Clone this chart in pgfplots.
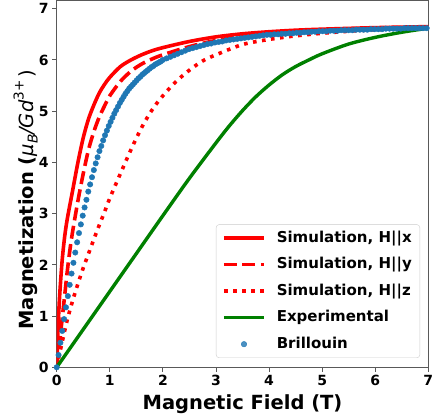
\documentclass[border=0pt]{standalone}
\usepackage{fontspec}
\setmainfont{DejaVu Sans}
\usepackage{pgfplots}
\pgfplotsset{compat=1.18}
\definecolor{mplred}{rgb}{1,0,0}
\definecolor{mplgreen}{rgb}{0,0.5,0}
\definecolor{mplblue}{HTML}{1F77B4}

\begin{document}
\begin{tikzpicture}
\begin{axis}[
  name=ax,
  scale only axis,
  width=371.6pt, height=366.8pt,
  xmin=0, xmax=7, ymin=0, ymax=7.16,
  xtick={0,1,...,7}, ytick={0,1,...,7},
  tick align=outside, tick pos=left,
  major tick length=4.5pt,
  every tick/.style={black!65, line width=0.9pt},
  axis line style={black!65, line width=0.9pt},
  /pgf/number format/assume math mode=true,
  ticklabel style={font=\fontsize{14}{14}\selectfont\bfseries},
  xlabel={Magnetic Field (T)},
  ylabel={Magnetization ({\mdseries\itshape μ\raisebox{-0.22em}{\fontsize{13.6}{14}\selectfont B}/Gd\raisebox{0.5em}{\fontsize{13.6}{14}\selectfont\upshape 3+}\,\upshape)}},
  label style={font=\fontsize{19.5}{20}\selectfont\bfseries},
  xlabel style={at={(axis description cs:0.5,-0.1145)}, anchor=base},
  ylabel style={at={(axis description cs:-0.063,0.0935)}, anchor=base west},
  legend style={at={(axis description cs:0.9777,0.0254)}, anchor=south east,
    draw=black!20, rounded corners=3pt, fill=white, fill opacity=0.8, text opacity=1,
    font=\fontsize{15}{15}\selectfont\bfseries,
    inner xsep=6pt, inner ysep=4.5pt, row sep=8.3pt,
    nodes={inner sep=2pt, text height=11pt, text depth=3.2pt},
    /tikz/every odd column/.append style={column sep=9pt}},
  legend cell align=left,
  legend image code/.code={\draw[#1] (0pt,0pt) -- (40pt,0pt);},
]
% Brillouin (scatter, drawn under the lines)
\addplot[only marks, mark=*, mark size=2.75pt, color=mplblue, forget plot] table {
x y
0.000 0.00
0.035 0.24
0.070 0.48
0.105 0.71
0.140 0.94
0.175 1.17
0.210 1.39
0.245 1.61
0.280 1.83
0.315 2.04
0.350 2.24
0.385 2.44
0.420 2.62
0.455 2.79
0.490 2.96
0.525 3.12
0.560 3.27
0.595 3.43
0.630 3.57
0.665 3.71
0.700 3.85
0.735 3.98
0.770 4.10
0.805 4.22
0.840 4.32
0.875 4.43
0.910 4.53
0.945 4.62
0.980 4.71
1.015 4.79
1.050 4.87
1.085 4.95
1.120 5.02
1.155 5.09
1.190 5.16
1.225 5.22
1.260 5.28
1.295 5.34
1.330 5.39
1.365 5.44
1.400 5.48
1.435 5.52
1.470 5.56
1.505 5.60
1.540 5.64
1.575 5.67
1.610 5.71
1.645 5.74
1.680 5.77
1.715 5.80
1.750 5.83
1.785 5.86
1.820 5.88
1.855 5.91
1.890 5.93
1.925 5.95
1.960 5.97
2.000 6.00
2.07 6.03
2.14 6.06
2.21 6.09
2.28 6.12
2.35 6.15
2.42 6.18
2.49 6.21
2.56 6.23
2.63 6.25
2.70 6.27
2.77 6.29
2.84 6.31
2.91 6.32
2.98 6.34
3.05 6.35
3.12 6.36
3.19 6.38
3.26 6.39
3.33 6.40
3.40 6.41
3.47 6.42
3.54 6.43
3.61 6.44
3.68 6.45
3.75 6.46
3.82 6.47
3.89 6.48
3.96 6.49
4.03 6.49
4.10 6.50
4.17 6.50
4.24 6.51
4.31 6.51
4.38 6.52
4.45 6.52
4.52 6.53
4.59 6.53
4.66 6.54
4.73 6.54
4.80 6.55
4.87 6.55
4.94 6.56
5.01 6.56
5.08 6.56
5.15 6.57
5.22 6.57
5.29 6.57
5.36 6.58
5.43 6.58
5.50 6.58
5.57 6.58
5.64 6.59
5.71 6.59
5.78 6.59
5.85 6.59
5.92 6.60
5.99 6.60
6.06 6.60
6.13 6.60
6.20 6.61
6.27 6.61
6.34 6.61
6.41 6.61
6.48 6.61
6.55 6.62
6.62 6.62
6.69 6.62
6.76 6.62
6.83 6.62
6.90 6.62
6.97 6.62
};
% Simulation, H||x
\addplot[color=mplred, line width=3.6pt, smooth] table {
x y
0 0
0.02 0.6
0.05 1.3
0.1 2.05
0.15 2.55
0.2 2.9
0.3 3.45
0.4 4.0
0.5 4.48
0.6 4.85
0.7 5.12
0.8 5.35
0.9 5.52
1.0 5.66
1.2 5.87
1.4 6.0
1.6 6.1
1.8 6.18
2.0 6.24
2.5 6.36
3.0 6.45
3.5 6.51
4.0 6.55
4.5 6.58
5.0 6.6
6.0 6.63
7.0 6.65
};
% Simulation, H||y
\addplot[color=mplred, line width=3.6pt, dash pattern=on 13pt off 5.5pt, smooth] table {
x y
0 0
0.05 0.45
0.1 0.92
0.15 1.4
0.2 1.88
0.25 2.3
0.3 2.65
0.4 3.25
0.5 3.78
0.6 4.25
0.7 4.6
0.8 4.88
0.9 5.1
1.0 5.3
1.2 5.58
1.4 5.78
1.6 5.92
1.8 6.02
2.0 6.1
2.5 6.26
3.0 6.38
3.5 6.46
4.0 6.52
5.0 6.58
6.0 6.62
7.0 6.64
};
% Simulation, H||z
\addplot[color=mplred, line width=3.6pt, dash pattern=on 3.6pt off 5.5pt, smooth] table {
x y
0 0
0.1 0.48
0.2 0.93
0.3 1.3
0.4 1.63
0.5 1.94
0.6 2.22
0.7 2.5
0.8 2.77
0.9 3.03
1.0 3.3
1.2 3.78
1.4 4.25
1.6 4.68
1.8 5.03
2.0 5.3
2.25 5.58
2.5 5.8
2.75 5.98
3.0 6.1
3.5 6.3
4.0 6.4
4.5 6.47
5.0 6.52
5.5 6.56
6.0 6.59
7.0 6.63
};
% Experimental
\addplot[color=mplgreen, line width=3.4pt, smooth] table {
x y
0 0
0.5 0.74
1.0 1.48
1.5 2.22
2.0 2.96
2.5 3.69
3.0 4.38
3.25 4.71
3.5 5.01
3.75 5.28
4.0 5.51
4.25 5.71
4.5 5.87
4.75 6.0
5.0 6.12
5.5 6.31
6.0 6.44
6.5 6.54
7.0 6.62
};
\addlegendimage{color=mplblue, legend image code/.code={\draw[mark=*, mark size=2.75pt, mplblue, only marks] plot coordinates {(20pt,0pt)};}}
\legend{Simulation{,} H||x, Simulation{,} H||y, Simulation{,} H||z, Experimental, Brillouin}
\end{axis}
\pgfresetboundingbox
\path ([shift={(-56.7pt,-51.7pt)}]ax.south west) rectangle ([shift={(5.7pt,0.5pt)}]ax.north east);
\end{tikzpicture}
\end{document}
